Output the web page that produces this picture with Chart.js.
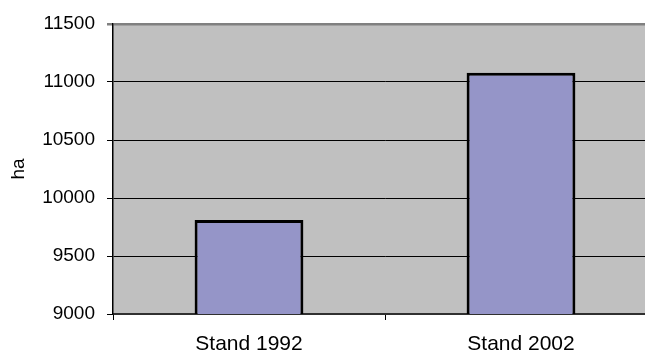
<!DOCTYPE html>
<html>
<head>
<meta charset="utf-8">
<script src="https://cdn.jsdelivr.net/npm/chart.js@4/dist/chart.umd.min.js"></script>
<style>
  html, body { margin: 0; padding: 0; background: #ffffff; overflow: hidden; }
  #wrap { position: absolute; left: 0; top: 0; width: 660px; height: 351px; }
</style>
</head>
<body>
<div id="wrap"><canvas id="c" width="660" height="351"></canvas></div>
<script>
// Agricultural area in hectares, two survey years
const categories = ['Stand 1992', 'Stand 2002'];
const areaHa = [9810, 11080];
const yTicks = [9000, 9500, 10000, 10500, 11000, 11500];

const FONT = 'Liberation Sans, Arial, sans-serif';

// grey plot-area fill behind the bars
const plotBackground = {
  id: 'plotBackground',
  beforeDraw(chart) {
    const a = chart.chartArea, ctx = chart.ctx;
    ctx.save();
    ctx.fillStyle = '#C0C0C0';
    ctx.fillRect(a.left, a.top, a.right - a.left, a.bottom - a.top);
    ctx.restore();
  }
};

new Chart(document.getElementById('c'), {
  type: 'bar',
  data: {
    labels: categories,
    datasets: [{
      data: areaHa,
      backgroundColor: '#9595C8',
      borderColor: '#000000',
      borderWidth: 3,
      borderSkipped: false,
      categoryPercentage: 1.0,
      barPercentage: 0.4
    }]
  },
  options: {
    responsive: false,
    animation: false,
    layout: { padding: { top: 24, right: 3, left: 0, bottom: 0 } },
    plugins: { legend: { display: false }, tooltip: { enabled: false } },
    scales: {
      x: {
        offset: true,
        grid: {
          offset: true,
          drawOnChartArea: false,
          drawTicks: true,
          tickLength: 6,
          color: '#000000',
          lineWidth: 1
        },
        border: { display: true, color: '#303030', width: 2 },
        ticks: {
          color: '#000000',
          font: { family: FONT, size: 21 },
          padding: 12
        },
        afterFit(scale) { scale.height = 37; }
      },
      y: {
        min: 9000,
        max: 11500,
        afterBuildTicks(scale) { scale.ticks = yTicks.map(v => ({ value: v })); },
        grid: {
          color: ctx => (ctx.tick && ctx.tick.value === 11500) ? '#808080' : '#000000',
          lineWidth: ctx => (ctx.tick && ctx.tick.value === 11500) ? 2.5 : 1,
          tickLength: 6,
          drawTicks: true
        },
        border: { display: true, color: '#000000', width: 1.5 },
        ticks: {
          color: '#000000',
          font: { family: FONT, size: 19 },
          padding: 12,
          callback: v => String(v)
        },
        title: {
          display: true,
          text: 'ha',
          color: '#000000',
          font: { family: FONT, size: 19 },
          padding: { top: 7, bottom: 0 }
        },
        afterFit(scale) { scale.width = 113; }
      }
    }
  },
  plugins: [plotBackground]
});
</script>
</body>
</html>
